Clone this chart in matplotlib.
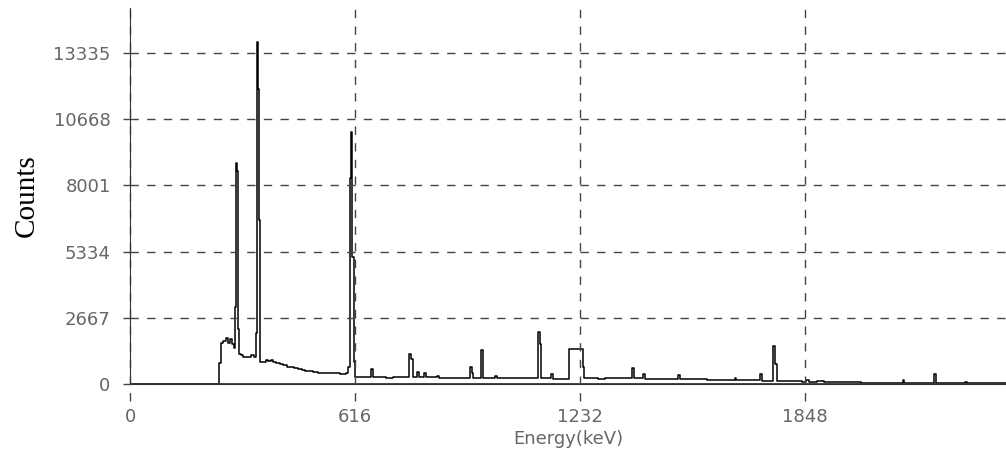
import matplotlib.pyplot as plt

# Spectrum: energy (keV) where each step starts, and counts
energia = [0, 244, 250, 255, 262, 268, 275, 280, 284, 288, 290, 293, 296, 299,
           303, 310, 320, 330, 340, 344, 347, 350, 353, 357, 365, 372, 378, 385,
           392, 400, 410, 420, 430, 440, 450, 460, 470, 480, 490, 500, 515, 530,
           545, 560, 575, 590, 598, 602, 605, 609, 613, 617, 630, 650, 660, 666,
           700, 720, 740, 763, 765, 770, 774, 786, 790, 806, 810, 840, 845, 880,
           925, 930, 936, 940, 962, 965, 1000, 1005, 1050, 1100, 1116, 1121, 1125,
           1153, 1158, 1190, 1203, 1240, 1244, 1280, 1300, 1375, 1380, 1405, 1410,
           1500, 1505, 1540, 1580, 1600, 1655, 1660, 1725, 1730, 1760, 1765, 1770,
           1790, 1800, 1820, 1840, 1850, 1860, 1880, 1900, 2000, 2115, 2120, 2200,
           2206, 2285, 2290, 2400]
contagens = [20, 850, 1650, 1750, 1850, 1650, 1800, 1600, 1450, 3100, 8900, 8600,
             2200, 1200, 1150, 1100, 1080, 1150, 1100, 2050, 13800, 11900, 6600,
             900, 880, 950, 920, 980, 900, 860, 820, 760, 700, 680, 640, 600, 560,
             540, 520, 480, 460, 450, 430, 440, 420, 430, 700, 8300, 10150, 5100,
             900, 300, 280, 270, 600, 280, 260, 290, 270, 300, 1200, 1000, 300,
             480, 280, 450, 270, 330, 260, 250, 260, 700, 450, 250, 1370, 250, 320,
             240, 230, 230, 2100, 1600, 230, 400, 220, 220, 1410, 700, 230, 220,
             230, 640, 230, 400, 220, 360, 200, 200, 170, 150, 240, 150, 400, 130,
             1530, 800, 130, 140, 110, 140, 100, 150, 90, 110, 70, 60, 160, 60,
             400, 60, 100, 40, 40]

ticks_x = [0, 616, 1232, 1848]
ticks_y = [0, 2667, 5334, 8001, 10668, 13335]

cinza = '#666666'
grade = '#444444'

fig = plt.figure(figsize=(10.06, 4.59), dpi=100)
ax = fig.add_axes([130 / 1006, 75 / 459, 876 / 1006, 376 / 459])

ax.plot(energia, contagens, drawstyle='steps-post', color='black', linewidth=1.1)
ax.axhline(0, color='#333333', linewidth=2.0)

ax.set_xlim(0, 2398)
ax.set_ylim(0, 15150)

# grade tracejada
for y in ticks_y[1:]:
    ax.axhline(y, color=grade, linewidth=1.0, linestyle=(0, (6, 6)))
for x in ticks_x:
    ax.axvline(x, ymin=-0.045, ymax=1, color=grade, linewidth=1.0,
               linestyle=(0, (6, 6)), clip_on=False)

ax.set_xticks(ticks_x)
ax.set_xticklabels([str(v) for v in ticks_x])
ax.set_yticks(ticks_y)
ax.set_yticklabels([str(v) for v in ticks_y])
ax.tick_params(axis='x', length=0, pad=17, labelsize=13, labelcolor=cinza)
ax.tick_params(axis='y', length=5, width=1, color=grade, pad=9, labelsize=13,
               labelcolor=cinza)

for lado in ['top', 'right']:
    ax.spines[lado].set_visible(False)
ax.spines['left'].set_color('#333333')
ax.spines['bottom'].set_color('#333333')

ax.set_xlabel('Energy(keV)', fontsize=13, color=cinza, labelpad=3)
ax.set_ylabel('Counts', fontsize=21, family='Liberation Serif', labelpad=10)

fig.savefig('out.png', dpi=100)
